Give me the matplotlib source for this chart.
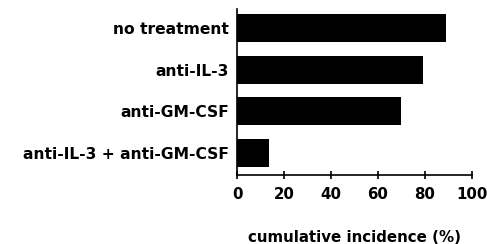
import matplotlib
matplotlib.use("Agg")
import matplotlib.pyplot as plt

categories = ["no treatment", "anti-IL-3", "anti-GM-CSF", "anti-IL-3 + anti-GM-CSF"]
values = [89, 79, 70, 13.5]
xticks = [0, 20, 40, 60, 80, 100]

plt.rcParams['font.family'] = ['DejaVu Sans']
plt.rcParams['font.weight'] = 'bold'

fig = plt.figure(figsize=(4.87, 2.44), dpi=100)
ax = fig.add_axes([0.4867, 0.2828, 0.969 - 0.4867, 0.963 - 0.2828])

n = len(categories)
pos = list(range(n - 1, -1, -1))
ax.barh(pos, values, height=0.68, color='black')
ax.set_xlim(0, 100)
ax.set_ylim(-0.53, 3.46)
ax.set_yticks(pos)
ax.set_yticklabels(categories, fontsize=11.2, fontweight='bold')
ax.tick_params(axis='y', length=0, pad=6)
ax.set_xticks(xticks)
ax.set_xticklabels([str(t) for t in xticks], fontsize=10.8, fontweight='bold')
ax.tick_params(axis='x', direction='inout', length=6, width=1.2, pad=6)
for s in ['top', 'right']:
    ax.spines[s].set_visible(False)
ax.spines['left'].set_linewidth(1.2)
ax.spines['bottom'].set_linewidth(1.2)
ax.set_xlabel("cumulative incidence (%)", fontsize=10.8, fontweight='bold', labelpad=20)

fig.savefig("out.png", dpi=100)
